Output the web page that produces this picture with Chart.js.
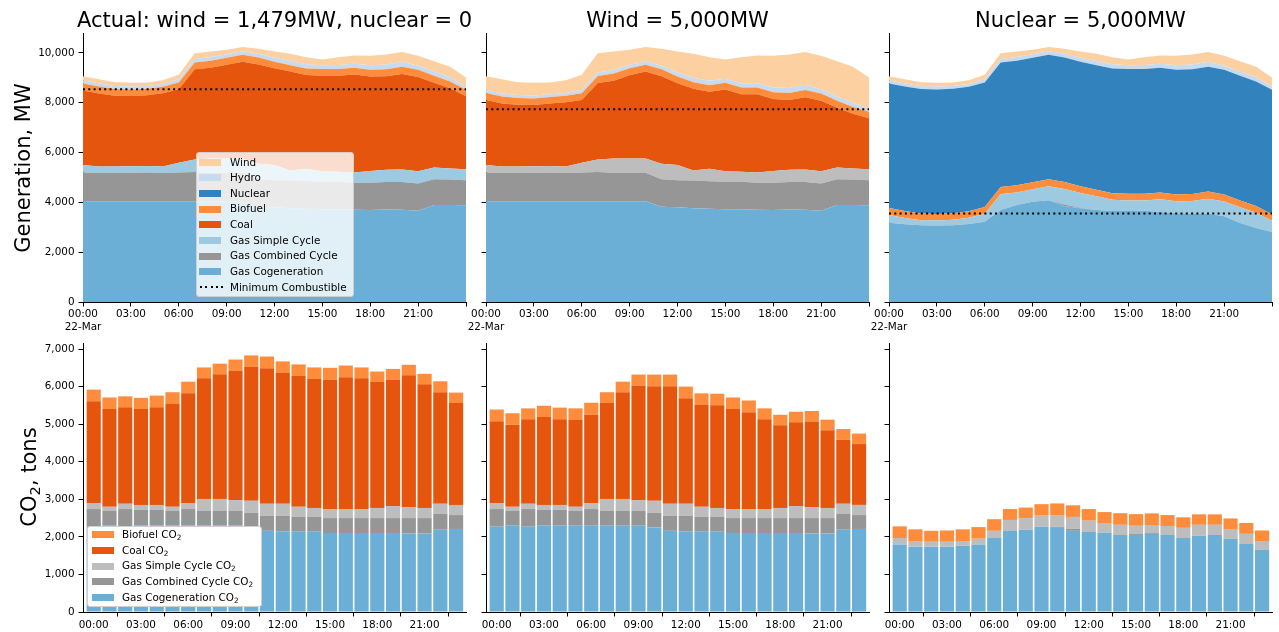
<!DOCTYPE html>
<html>
<head>
<meta charset="utf-8">
<script src="https://cdn.jsdelivr.net/npm/chart.js@4.4.1/dist/chart.umd.min.js"></script>
<style>
  html, body { margin:0; padding:0; }
  body { width:1279px; height:632px; overflow:hidden; background:#fff; position:relative; font-family:'DejaVu Sans', sans-serif; color:#000; }
  canvas { position:absolute; }
  .title { position:absolute; width:600px; text-align:center; font-size:21px; line-height:24px; white-space:nowrap; }
  .ytitle { position:absolute; transform:translate(-50%,-50%) rotate(-90deg); font-size:21px; line-height:24px; white-space:nowrap; }
  .legend { position:absolute; border:1px solid #d0d0d0; border-radius:3px; box-sizing:border-box; font-size:10.4px; }
  .row { position:absolute; left:0; right:0; }
  .sw { position:absolute; }
  .lt { position:absolute; white-space:nowrap; }
  sub { font-size:70%; vertical-align:-0.25em; line-height:0; }
</style>
</head>
<body>
<script>
// ---------------- data ----------------
const hours = [0,1,2,3,4,5,6,7,8,9,10,11,12,13,14,15,16,17,18,19,20,21,22,23,24];
const topTickHours = [0,3,6,9,12,15,18,21,24];
const topTickLabels = ['00:00','03:00','06:00','09:00','12:00','15:00','18:00','21:00',''];
const dateLabel = '22-Mar';
const barHourLabels = ['00:00','01:00','02:00','03:00','04:00','05:00','06:00','07:00','08:00','09:00','10:00','11:00','12:00','13:00','14:00','15:00','16:00','17:00','18:00','19:00','20:00','21:00','22:00','23:00'];
const barTickIdx = [0,3,6,9,12,15,18,21];
const titles = ['Actual: wind = 1,479MW, nuclear = 0', 'Wind = 5,000MW', 'Nuclear = 5,000MW'];
const genTicks = [0,2000,4000,6000,8000,10000];
const co2Ticks = [0,1000,2000,3000,4000,5000,6000,7000];

// generation, MW (hourly)
const gasCogeneration = [4050,4050,4050,4050,4050,4050,4050,4050,4050,4050,4050,3820,3800,3760,3740,3720,3720,3700,3690,3710,3700,3660,3890,3890,3880];
const gasCombinedCycle = [1150,1130,1140,1140,1150,1130,1150,1170,1140,1140,1140,1110,1090,1120,1110,1110,1110,1090,1100,1110,1120,1100,1040,1030,1010];
const gasSimpleCycle = [300,260,250,260,260,260,390,500,570,570,570,620,610,400,500,420,400,410,470,490,500,490,470,440,440];
const coalActual = [2990,2930,2840,2820,2840,2940,2950,3620,3640,3770,3890,3990,3880,3970,3760,3830,3850,3930,3790,3750,3830,3780,3400,3220,2930];
const biofuel = [280,280,270,260,260,260,270,280,290,280,280,280,270,260,260,270,270,270,270,280,290,290,280,270,260];
const hydro = [130,120,120,120,110,110,130,140,150,140,140,150,160,170,180,160,170,170,190,200,210,170,170,170,120];
const windActual = [160,170,150,150,140,150,180,230,220,180,170,200,250,290,280,230,310,330,380,400,390,400,420,430,370];
const windHigh = [540,570,510,510,470,510,610,780,740,610,570,680,850,980,950,780,1050,1120,1280,1350,1320,1350,1420,1450,1250];
const coalWindHigh = [2610,2530,2480,2460,2510,2580,2520,3070,3120,3340,3490,3510,3280,3280,3090,3280,3110,3140,2890,2800,2900,2830,2400,2200,2050];
const nuclearHigh = [5000,5000,5000,5000,5000,5000,5000,5000,5000,5000,5000,5000,5000,5000,5000,5000,5000,5000,5000,5000,5000,5000,5000,5000,5000];
const gasCogenerationNuclear = [3180,3120,3080,3070,3080,3130,3220,3690,3890,4020,4090,3850,3760,3690,3650,3650,3660,3610,3560,3540,3540,3440,3170,2970,2810];
const gasCombinedCycleNuclear = [0,0,0,0,0,0,0,0,0,0,0,60,20,0,0,0,0,0,0,0,0,0,0,0,0];
const gasSimpleCycleNuclear = [310,250,200,200,220,250,320,650,510,510,560,630,600,560,460,430,420,520,490,520,610,590,630,610,450];
const minCombustible = [8540, 7740, 3550];

// CO2, tons (hourly bars)
const co2Cogeneration = [2270,2300,2270,2300,2300,2300,2300,2300,2300,2300,2250,2160,2150,2140,2140,2100,2100,2100,2100,2100,2090,2090,2190,2210];
const co2CombinedCycle = [470,400,470,420,420,390,440,390,390,390,390,400,410,390,390,400,400,400,400,400,410,410,420,370];
const co2SimpleCycle = [160,100,140,130,130,110,160,320,320,290,320,320,320,270,240,240,240,240,270,320,290,270,270,270];
const co2CoalActual = [2710,2600,2570,2550,2600,2740,2920,3210,3320,3450,3560,3610,3480,3480,3430,3450,3510,3480,3350,3370,3510,3290,2970,2710];
const co2Biofuel = [310,310,290,300,310,310,310,290,280,290,310,310,310,310,310,310,310,290,280,280,280,280,290,280];
const co2CoalWindHigh = [2180,2180,2250,2340,2280,2310,2360,2550,2840,3050,3050,3130,2810,2710,2730,2660,2580,2390,2200,2230,2280,2070,1700,1620];
const co2CogenerationNuclear = [1790,1740,1740,1740,1760,1790,1970,2160,2190,2270,2240,2160,2130,2110,2050,2050,2080,2050,1970,2030,2050,1950,1810,1660];
const co2CombinedCycleNuclear = [0,0,0,0,0,0,0,0,0,0,30,50,0,0,0,25,25,0,0,0,0,0,0,0];
const co2SimpleCycleNuclear = [180,150,130,130,130,160,190,290,310,310,310,320,300,240,270,220,210,240,270,290,270,260,270,230];

// legends
const topLegendLabels = ['Wind','Hydro','Nuclear','Biofuel','Coal','Gas Simple Cycle','Gas Combined Cycle','Gas Cogeneration','Minimum Combustible'];
const bottomLegendLabels = ['Biofuel','Coal','Gas Simple Cycle','Gas Combined Cycle','Gas Cogeneration'];

// ---------------- styles ----------------
const COL = { wind:'#fdd0a2', hydro:'#c6dbef', nuclear:'#3182bd', bio:'#fd8d3c', coal:'#e6550d',
  simple:'#9ecae1', simpleGrey:'#bdbdbd', combined:'#969696', cogen:'#6baed6' };
const topLegendColors = [COL.wind, COL.hydro, COL.nuclear, COL.bio, COL.coal, COL.simple, COL.combined, COL.cogen, null];
const bottomLegendColors = [COL.bio, COL.coal, COL.simpleGrey, COL.combined, COL.cogen];

const areaLeft = [83, 486, 889];
const areaW = 383;
const YW = 60, PADR = 12, PADT = 5;

Chart.defaults.font.family = "'DejaVu Sans', sans-serif";
Chart.defaults.font.size = 10.4;
Chart.defaults.color = '#000';

function mkCanvas(left, top, w, h) {
  const c = document.createElement('canvas');
  c.width = w; c.height = h;
  c.style.left = left + 'px'; c.style.top = top + 'px';
  c.style.width = w + 'px'; c.style.height = h + 'px';
  document.body.appendChild(c);
  return c;
}
function fixY(w) { return s => { s.width = w; s.paddingTop = 0; s.paddingBottom = 0; s.paddingLeft = 0; s.paddingRight = 0; }; }
function fixX(h) { return s => { s.height = h; s.paddingTop = 0; s.paddingBottom = 0; s.paddingLeft = 0; s.paddingRight = 0; }; }
const gridOpts = { drawOnChartArea:false, drawTicks:true, tickLength:4.5, tickColor:'#000', tickWidth:1 };
const borderOpts = { display:true, color:'#000', width:1 };

function area(label, arr, color, first) {
  return { type:'line', label, data: arr.map((v,i)=>({x:hours[i], y:v})), backgroundColor:color, borderColor:color,
    borderWidth:0, pointRadius:0, fill: first ? 'origin' : '-1', stack:'gen', tension:0 };
}
function bars(label, arr, color) {
  return { label, data: arr.map((v,i)=>({x:i, y:v})), backgroundColor:color, borderWidth:0,
    barPercentage:0.9, categoryPercentage:1.0 };
}

const topSets = [
  [area('Gas Cogeneration', gasCogeneration, COL.cogen, true), area('Gas Combined Cycle', gasCombinedCycle, COL.combined),
   area('Gas Simple Cycle', gasSimpleCycle, COL.simple), area('Coal', coalActual, COL.coal), area('Biofuel', biofuel, COL.bio),
   area('Hydro', hydro, COL.hydro), area('Wind', windActual, COL.wind)],
  [area('Gas Cogeneration', gasCogeneration, COL.cogen, true), area('Gas Combined Cycle', gasCombinedCycle, COL.combined),
   area('Gas Simple Cycle', gasSimpleCycle, COL.simpleGrey), area('Coal', coalWindHigh, COL.coal), area('Biofuel', biofuel, COL.bio),
   area('Hydro', hydro, COL.hydro), area('Wind', windHigh, COL.wind)],
  [area('Gas Cogeneration', gasCogenerationNuclear, COL.cogen, true), area('Gas Combined Cycle', gasCombinedCycleNuclear, COL.combined),
   area('Gas Simple Cycle', gasSimpleCycleNuclear, COL.simple), area('Biofuel', biofuel, COL.bio),
   area('Nuclear', nuclearHigh, COL.nuclear), area('Hydro', hydro, COL.hydro), area('Wind', windActual, COL.wind)]
];
const bottomSets = [
  [bars('Gas Cogeneration CO2', co2Cogeneration, COL.cogen), bars('Gas Combined Cycle CO2', co2CombinedCycle, COL.combined),
   bars('Gas Simple Cycle CO2', co2SimpleCycle, COL.simpleGrey), bars('Coal CO2', co2CoalActual, COL.coal), bars('Biofuel CO2', co2Biofuel, COL.bio)],
  [bars('Gas Cogeneration CO2', co2Cogeneration, COL.cogen), bars('Gas Combined Cycle CO2', co2CombinedCycle, COL.combined),
   bars('Gas Simple Cycle CO2', co2SimpleCycle, COL.simpleGrey), bars('Coal CO2', co2CoalWindHigh, COL.coal), bars('Biofuel CO2', co2Biofuel, COL.bio)],
  [bars('Gas Cogeneration CO2', co2CogenerationNuclear, COL.cogen), bars('Gas Combined Cycle CO2', co2CombinedCycleNuclear, COL.combined),
   bars('Gas Simple Cycle CO2', co2SimpleCycleNuclear, COL.simpleGrey), bars('Biofuel CO2', co2Biofuel, COL.bio)]
];

// ---------------- top row: generation ----------------
const TOP_AREA_TOP = 33, TOP_AREA_H = 269, TOP_XH = 35;
for (let p = 0; p < 3; p++) {
  const c = mkCanvas(areaLeft[p] - YW, TOP_AREA_TOP - PADT, YW + areaW + PADR, PADT + TOP_AREA_H + TOP_XH);
  const ds = topSets[p].slice();
  ds.push({ type:'line', label:'Minimum Combustible', data:[{x:0,y:minCombustible[p]},{x:24,y:minCombustible[p]}],
    borderColor:'#000', borderWidth:2, borderDash:[2,3.3], pointRadius:0, fill:false, stack:'min', order:-1 });
  new Chart(c, {
    type:'line',
    data:{ datasets: ds },
    options:{
      responsive:false, animation:false, devicePixelRatio:1,
      layout:{ padding:{ left:0, top:PADT, right:PADR, bottom:0 } },
      plugins:{ legend:{display:false}, tooltip:{enabled:false} },
      scales:{
        x:{ type:'linear', min:0, max:24, offset:false,
            afterBuildTicks: s => { s.ticks = topTickHours.map(v => ({value:v})); },
            afterFit: fixX(TOP_XH),
            ticks:{ autoSkip:false, maxRotation:0, minRotation:0, padding:2,
              callback: (v, i) => i === 0 ? [topTickLabels[0], dateLabel] : topTickLabels[i] },
            grid: gridOpts, border: borderOpts },
        y:{ type:'linear', stacked:true, min:0, max:10800,
            afterBuildTicks: s => { s.ticks = genTicks.map(v => ({value:v})); },
            afterFit: fixY(YW),
            ticks:{ padding:4, callback: v => p === 0 ? v.toLocaleString('en-US') : '' },
            grid: gridOpts, border: borderOpts }
      }
    }
  });
}

// ---------------- bottom row: CO2 ----------------
const BOT_AREA_TOP = 343, BOT_AREA_H = 269, BOT_XH = 22;
for (let p = 0; p < 3; p++) {
  const c = mkCanvas(areaLeft[p] - YW, BOT_AREA_TOP - PADT, YW + areaW + PADR, PADT + BOT_AREA_H + BOT_XH);
  new Chart(c, {
    type:'bar',
    data:{ datasets: bottomSets[p] },
    options:{
      responsive:false, animation:false, devicePixelRatio:1,
      layout:{ padding:{ left:0, top:PADT, right:PADR, bottom:0 } },
      plugins:{ legend:{display:false}, tooltip:{enabled:false} },
      scales:{
        x:{ type:'linear', stacked:true, min:-0.68, max:23.63, offset:false,
            afterBuildTicks: s => { s.ticks = barTickIdx.map(v => ({value:v})); },
            afterFit: fixX(BOT_XH),
            ticks:{ autoSkip:false, maxRotation:0, minRotation:0, padding:3, callback: v => barHourLabels[v] },
            grid: gridOpts, border: borderOpts },
        y:{ type:'linear', stacked:true, min:0, max:7160,
            afterBuildTicks: s => { s.ticks = co2Ticks.map(v => ({value:v})); },
            afterFit: fixY(YW),
            ticks:{ padding:4, callback: v => p === 0 ? v.toLocaleString('en-US') : '' },
            grid: gridOpts, border: borderOpts }
      }
    }
  });
}

// ---------------- text overlays ----------------
for (let p = 0; p < 3; p++) {
  const t = document.createElement('div');
  t.className = 'title';
  t.style.left = (areaLeft[p] + areaW / 2 - 300) + 'px';
  t.style.top = '7.5px';
  t.textContent = titles[p];
  document.body.appendChild(t);
}
(function () {
  const g = document.createElement('div');
  g.className = 'ytitle'; g.style.left = '23px'; g.style.top = '167.5px';
  g.textContent = 'Generation, MW';
  document.body.appendChild(g);
  const c = document.createElement('div');
  c.className = 'ytitle'; c.style.left = '28.5px'; c.style.top = '477px';
  c.append('CO'); const s = document.createElement('sub'); s.textContent = '2'; c.append(s); c.append(', tons');
  document.body.appendChild(c);
})();

function makeLegend(box, labels, colors, rowH, firstTop, swLeft, swW, txtLeft, co2) {
  const L = document.createElement('div');
  L.className = 'legend';
  Object.assign(L.style, box);
  labels.forEach((lab, i) => {
    const r = document.createElement('div');
    r.className = 'row';
    r.style.top = (firstTop + i * rowH) + 'px';
    r.style.height = rowH + 'px';
    const sw = document.createElement('div');
    sw.className = 'sw';
    sw.style.left = swLeft + 'px'; sw.style.width = swW + 'px';
    if (colors[i]) {
      sw.style.top = ((rowH - 7) / 2) + 'px'; sw.style.height = '7px'; sw.style.background = colors[i];
    } else {
      sw.style.top = ((rowH - 2) / 2) + 'px'; sw.style.height = '2px'; sw.style.left = (swLeft + 1.5) + 'px';
      sw.style.background = 'repeating-linear-gradient(90deg, #000 0 2px, transparent 2px 5.3px)';
    }
    const t = document.createElement('div');
    t.className = 'lt';
    t.style.left = txtLeft + 'px'; t.style.top = '0px'; t.style.lineHeight = rowH + 'px';
    t.append(lab);
    if (co2) { t.append(' CO'); const s = document.createElement('sub'); s.textContent = '2'; t.append(s); }
    r.appendChild(sw); r.appendChild(t);
    L.appendChild(r);
  });
  document.body.appendChild(L);
}
makeLegend({left:'196px', top:'152px', width:'158px', height:'145px', background:'rgba(255,255,255,0.8)'},
  topLegendLabels, topLegendColors, 15.63, 1.5, 1.5, 22.7, 33, false);
makeLegend({left:'87px', top:'526px', width:'175px', height:'81px', background:'#fff'},
  bottomLegendLabels, bottomLegendColors, 15.67, 0, 4, 22, 34, true);
</script>
</body>
</html>
